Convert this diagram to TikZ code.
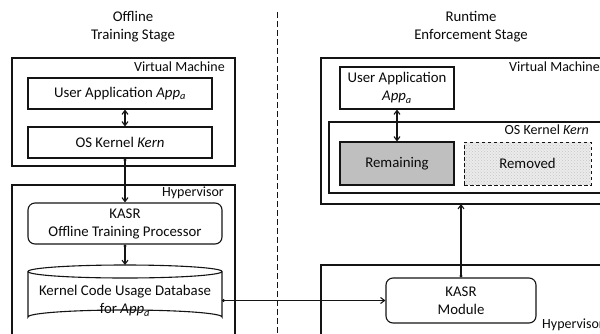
\documentclass[tikz,border=0pt]{standalone}
\usepackage{fontspec}
\setmainfont{Carlito}
\usetikzlibrary{arrows.meta,patterns,calc}
\definecolor{ln}{RGB}{20,20,20}
\definecolor{txt}{RGB}{10,10,10}
\begin{document}
\begin{tikzpicture}[x=1pt,y=-1pt,
  every node/.style={text=txt, font=\fontsize{14.8}{18}\selectfont, inner sep=0pt, align=center},
  box/.style={draw=ln, line width=1.1pt, rectangle},
  rbox/.style={draw=ln, line width=1.1pt, rectangle, rounded corners=7pt},
  outer/.style={draw=ln, line width=1.1pt},
  lbl/.style={font=\fontsize{14}{16}\selectfont, anchor=east},
  conn/.style={draw=ln, line width=1.1pt, -{Straight Barb[length=4pt,width=6pt]}},
  dconn/.style={draw=ln, line width=1.1pt, {Circle[length=2.8pt]}-{Straight Barb[length=4pt,width=6pt]}},
  bconn/.style={draw=ln, line width=1.1pt, {Straight Barb[length=4pt,width=6pt]}-{Straight Barb[length=4pt,width=6pt]}}]
\useasboundingbox (0,0) rectangle (600,333);
\clip (0,0) rectangle (600,333);
\fill[white] (0,0) rectangle (600,333);

% divider
\draw[ln, line width=0.9pt, dash pattern=on 6pt off 3pt] (277,12) -- (277,333);

% titles
\node (t1) at (133,27) {Offline\\Training Stage};
\node (t2) at (471,27) {Runtime\\Enforcement Stage};

% left virtual machine
\draw[outer] (12,58) rectangle (235,166);
\node[lbl] (vml) at (225,67) {Virtual Machine};
\node[box, minimum width=184pt, minimum height=31pt] (appl) at (120,93.5) {User Application \textit{App}$_{\mathit{a}}$};
\node[box, minimum width=184pt, minimum height=31pt] (kernl) at (120,142.5) {OS Kernel \textit{Kern}};

% left hypervisor
\draw[outer] (12,185) rectangle (235,345);
\node[lbl] (hvl) at (224,193) {Hypervisor};
\node[rbox, minimum width=194pt, minimum height=41pt] (train) at (125,223.5) {KASR\\Offline Training Processor};

% database cylinder
\node[minimum width=194pt, minimum height=59pt] (db) at (125,294.5) {};
\fill[white] (28,271.5) -- (28,317) arc[start angle=180,end angle=360,x radius=97,y radius=7] -- (222,271.5) -- cycle;
\draw[ln, line width=1.1pt] (28,271.5) -- (28,317) arc[start angle=180,end angle=360,x radius=97,y radius=7] -- (222,271.5);
\draw[ln, line width=1.1pt] (125,271.5) ellipse[x radius=97, y radius=6.5];
\node (dbt) at (125,301) {Kernel Code Usage Database\\for \textit{App}$_{\mathit{a}}$};

% right virtual machine
\draw[outer] (321,58) rectangle (640,204);
\node[lbl] (vmr) at (600,67) {Virtual Machine};
\node[box, minimum width=114pt, minimum height=42pt] (appr) at (397,88) {User Application\\\textit{App}$_{\mathit{a}}$};
\draw[outer] (329,122) rectangle (640,193);
\node[lbl] (kr) at (589,130) {OS Kernel \textit{Kern}};
\node[box, fill=black!25, minimum width=114pt, minimum height=43pt] (rem) at (397,163.5) {Remaining};
\node[draw=ln, line width=1pt, dash pattern=on 3.5pt off 2.5pt, fill=black!8, minimum width=127pt, minimum height=43pt] (remv) at (527.5,163.5) {};
\fill[pattern=crosshatch dots, pattern color=black!22] (465,143) rectangle (590,184);
\node (remvt) at (527.5,163.5) {Removed};

% right hypervisor
\draw[outer] (321,265) rectangle (640,345);
\node[anchor=west, font=\fontsize{14}{16}\selectfont] (hvr) at (542,325) {Hypervisor};
\node[rbox, minimum width=150pt, minimum height=45pt] (mod) at (461,300.5) {KASR\\Module};

% connectors
\draw[bconn] (train.north |- appl.south) -- (train.north |- kernl.north);
\draw[dconn] (train.north |- kernl.south) -- (train.north);
\draw[dconn] (train.south) -- (125,265);
\draw[dconn] (222,300.5) -- (mod.west);
\draw[dconn] (mod.north) -- (461,204);
\draw[bconn] (appr.south) -- (rem.north);
\end{tikzpicture}
\end{document}
